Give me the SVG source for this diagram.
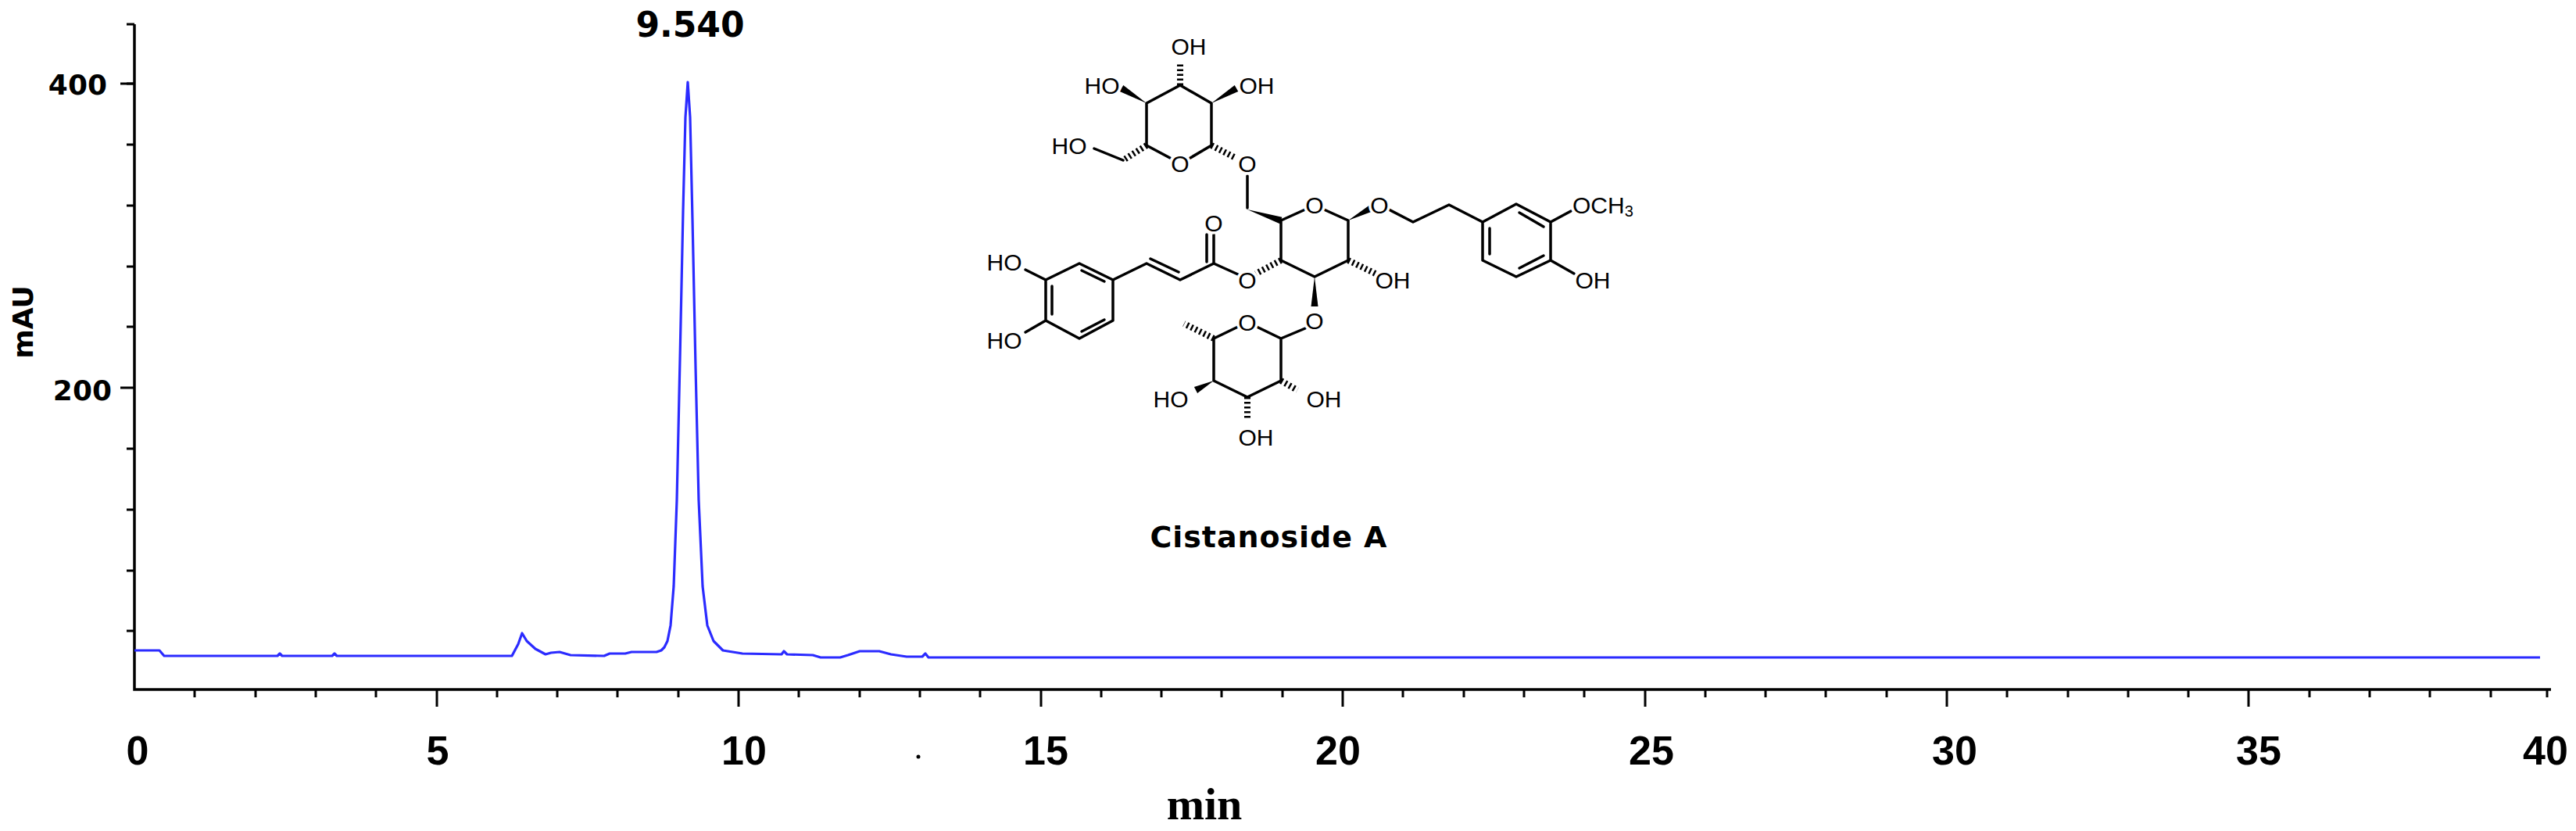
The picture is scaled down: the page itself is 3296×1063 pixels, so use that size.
<svg xmlns="http://www.w3.org/2000/svg" width="3296" height="1063" viewBox="0 0 3296 1063">
<style>
.ax{stroke:#000;stroke-width:3.5;fill:none}
.tk{stroke:#000;stroke-width:3}
.num{font-family:"DejaVu Sans",Verdana,sans-serif;font-weight:bold;fill:#000}
.xl{font-family:"Liberation Sans",Arial,sans-serif;font-weight:bold;font-size:52px;text-anchor:middle;fill:#000}
.b{stroke:#000;stroke-width:3.5;fill:none;stroke-linecap:round;stroke-linejoin:round}
.h{stroke:#000;stroke-width:8;stroke-dasharray:2.5 3.5;fill:none}
.w{fill:#000}
.at{font-family:"Liberation Sans",Arial,sans-serif;font-size:30px;fill:#000;text-anchor:middle;dominant-baseline:central;stroke:#fff;stroke-width:7;paint-order:stroke;stroke-linejoin:round}
</style>
<rect width="3296" height="1063" fill="#fff"/>
<g id="axes">
<path class="ax" d="M172,31 V882 H3264"/>
<g class="tk">
<path d="M162,107H172M162,185H172M162,263H172M162,341H172M162,418H172M162,574H172M162,652H172M162,730H172M162,807H172M162,31H172"/>
<path d="M154,107H172M154,496H172"/>
<path id="xticks" d="M249,882v10M327,882v10M404,882v10M481,882v10M559,882v22M636,882v10M713,882v10M790,882v10M868,882v10M945,882v22M1022,882v10M1100,882v10M1177,882v10M1254,882v10M1332,882v22M1409,882v10M1486,882v10M1563,882v10M1641,882v10M1718,882v22M1795,882v10M1873,882v10M1950,882v10M2027,882v10M2105,882v22M2182,882v10M2259,882v10M2336,882v10M2414,882v10M2491,882v22M2568,882v10M2646,882v10M2723,882v10M2800,882v10M2877,882v22M2955,882v10M3032,882v10M3109,882v10M3187,882v10M3259,882v10"/>
</g>
<text class="num" x="137" y="121" font-size="36" text-anchor="end">400</text>
<text class="num" x="143" y="512" font-size="36" text-anchor="end">200</text>
<text class="num" x="0" y="0" font-size="36" text-anchor="middle" transform="translate(42,412) rotate(-90)">mAU</text>
<text class="num" x="883" y="47" font-size="44" text-anchor="middle">9.540</text>
<g>
<text class="xl" x="176" y="978">0</text>
<text class="xl" x="560" y="978">5</text>
<text class="xl" x="952" y="978" textLength="58">10</text>
<text class="xl" x="1338" y="978" textLength="58">15</text>
<text class="xl" x="1712" y="978" textLength="58">20</text>
<text class="xl" x="2113" y="978" textLength="58">25</text>
<text class="xl" x="2501" y="978" textLength="58">30</text>
<text class="xl" x="2890" y="978" textLength="58">35</text>
<text class="xl" x="3257" y="978" textLength="58">40</text>
</g>
<circle cx="1175" cy="968" r="2.5" fill="#000"/>
<text x="1541" y="1048" font-family="Liberation Serif,Times New Roman,serif" font-weight="bold" font-size="58" text-anchor="middle">min</text>
</g>
<g id="trace">
<path fill="none" stroke="#2b2bff" stroke-width="3.2" stroke-linejoin="round" d="M172,832 L204,832 L210,839 L355,839 L358,836 L361,839 L425,839 L428,836 L431,839 L655,839 L663,824 L668,810 L674,820 L685,830 L698,837 L705,835 L716,834 L730,838 L773,839 L780,836 L800,836 L808,834 L840,834 L846,832 L850,828 L854,820 L858,800 L862,750 L866,640 L870,460 L874,270 L877,150 L880,105 L883,150 L886,280 L890,470 L894,640 L899,750 L905,800 L913,820 L925,832 L950,836 L1000,837 L1003,833 L1007,837 L1040,838 L1050,841 L1075,841 L1085,838 L1100,833 L1125,833 L1140,837 L1160,840 L1180,840 L1184,836 L1188,841 L3250,841"/>
</g>
<g id="structure">
<g id="bonds">
<path class="b" d="M1510,109L1467,132L1467,186L1497,202M1523,202L1550,186L1550,132L1510,109"/>
<path class="b" d="M1437,205L1400,190M1596,225L1596,266"/>
<path class="b" d="M1639,282L1670,268M1694,268L1725,282L1725,333L1682,354L1639,333L1639,282"/>
<path class="b" d="M1777,268L1808,284L1854,262L1897,284"/>
<path class="b" d="M1897,284L1940,261L1984,284L1984,333L1940,354L1897,333Z M1906,292V325 M1944,272L1975,290 M1975,327L1944,343 M1984,284L2010,270 M1984,333L2014,350"/>
<path class="b" d="M1670,420L1639,433L1639,487L1596,508L1553,487L1553,433L1584,418M1608,418L1639,433"/>
<path class="b" d="M1584,351L1553,337L1553,300M1544,335V300M1553,337L1510,358L1467,337L1424,358M1508,348L1472,331"/>
<path class="b" d="M1424,358L1381,337L1338,358L1338,410L1381,433L1424,410Z M1413,360L1384,346 M1346,366V402 M1384,424L1413,409 M1338,358L1312,345 M1338,410L1312,425"/>
<path class="h" d="M1510,109L1510,80 M1467,186L1437,205 M1550,186L1581,202 M1725,333L1760,350 M1639,333L1607,350 M1553,433L1515,414 M1639,487L1660,499 M1596,508L1596,538"/>
<polygon class="w" points="1467,132 1437.3,109.1 1432.7,116.9"/>
<polygon class="w" points="1550,132 1584.3,116.9 1579.7,109.1"/>
<polygon class="w" points="1596,268 1637.6,286.3 1640.4,277.7"/>
<polygon class="w" points="1725,282 1757.1,270 1752.9,262"/>
<polygon class="w" points="1682,354 1686.5,392 1677.5,392"/>
<polygon class="w" points="1553,487 1532.1,503 1527.9,495"/>
</g>
<g id="atoms">
<text class="at" x="1510" y="209">O</text>
<text class="at" x="1596" y="209">O</text>
<text class="at" x="1682" y="262">O</text>
<text class="at" x="1765" y="262">O</text>
<text class="at" x="1553" y="285">O</text>
<text class="at" x="1596" y="358">O</text>
<text class="at" x="1682" y="410">O</text>
<text class="at" x="1596" y="412">O</text>
<text class="at" x="1521" y="59">OH</text>
<text class="at" x="1410" y="109">HO</text>
<text class="at" x="1608" y="109">OH</text>
<text class="at" x="1368" y="186">HO</text>
<text class="at" x="2012" y="262" style="text-anchor:start">OCH<tspan font-size="20" dy="8">3</tspan></text>
<text class="at" x="2038" y="358">OH</text>
<text class="at" x="1782" y="358">OH</text>
<text class="at" x="1285" y="335">HO</text>
<text class="at" x="1285" y="435">HO</text>
<text class="at" x="1498" y="510">HO</text>
<text class="at" x="1694" y="510">OH</text>
<text class="at" x="1607" y="559">OH</text>
</g>
<text id="label" x="1623" y="700" font-family="DejaVu Sans,Verdana,sans-serif" font-weight="bold" font-size="38" text-anchor="middle" textLength="303">Cistanoside A</text>
</g>
</svg>
